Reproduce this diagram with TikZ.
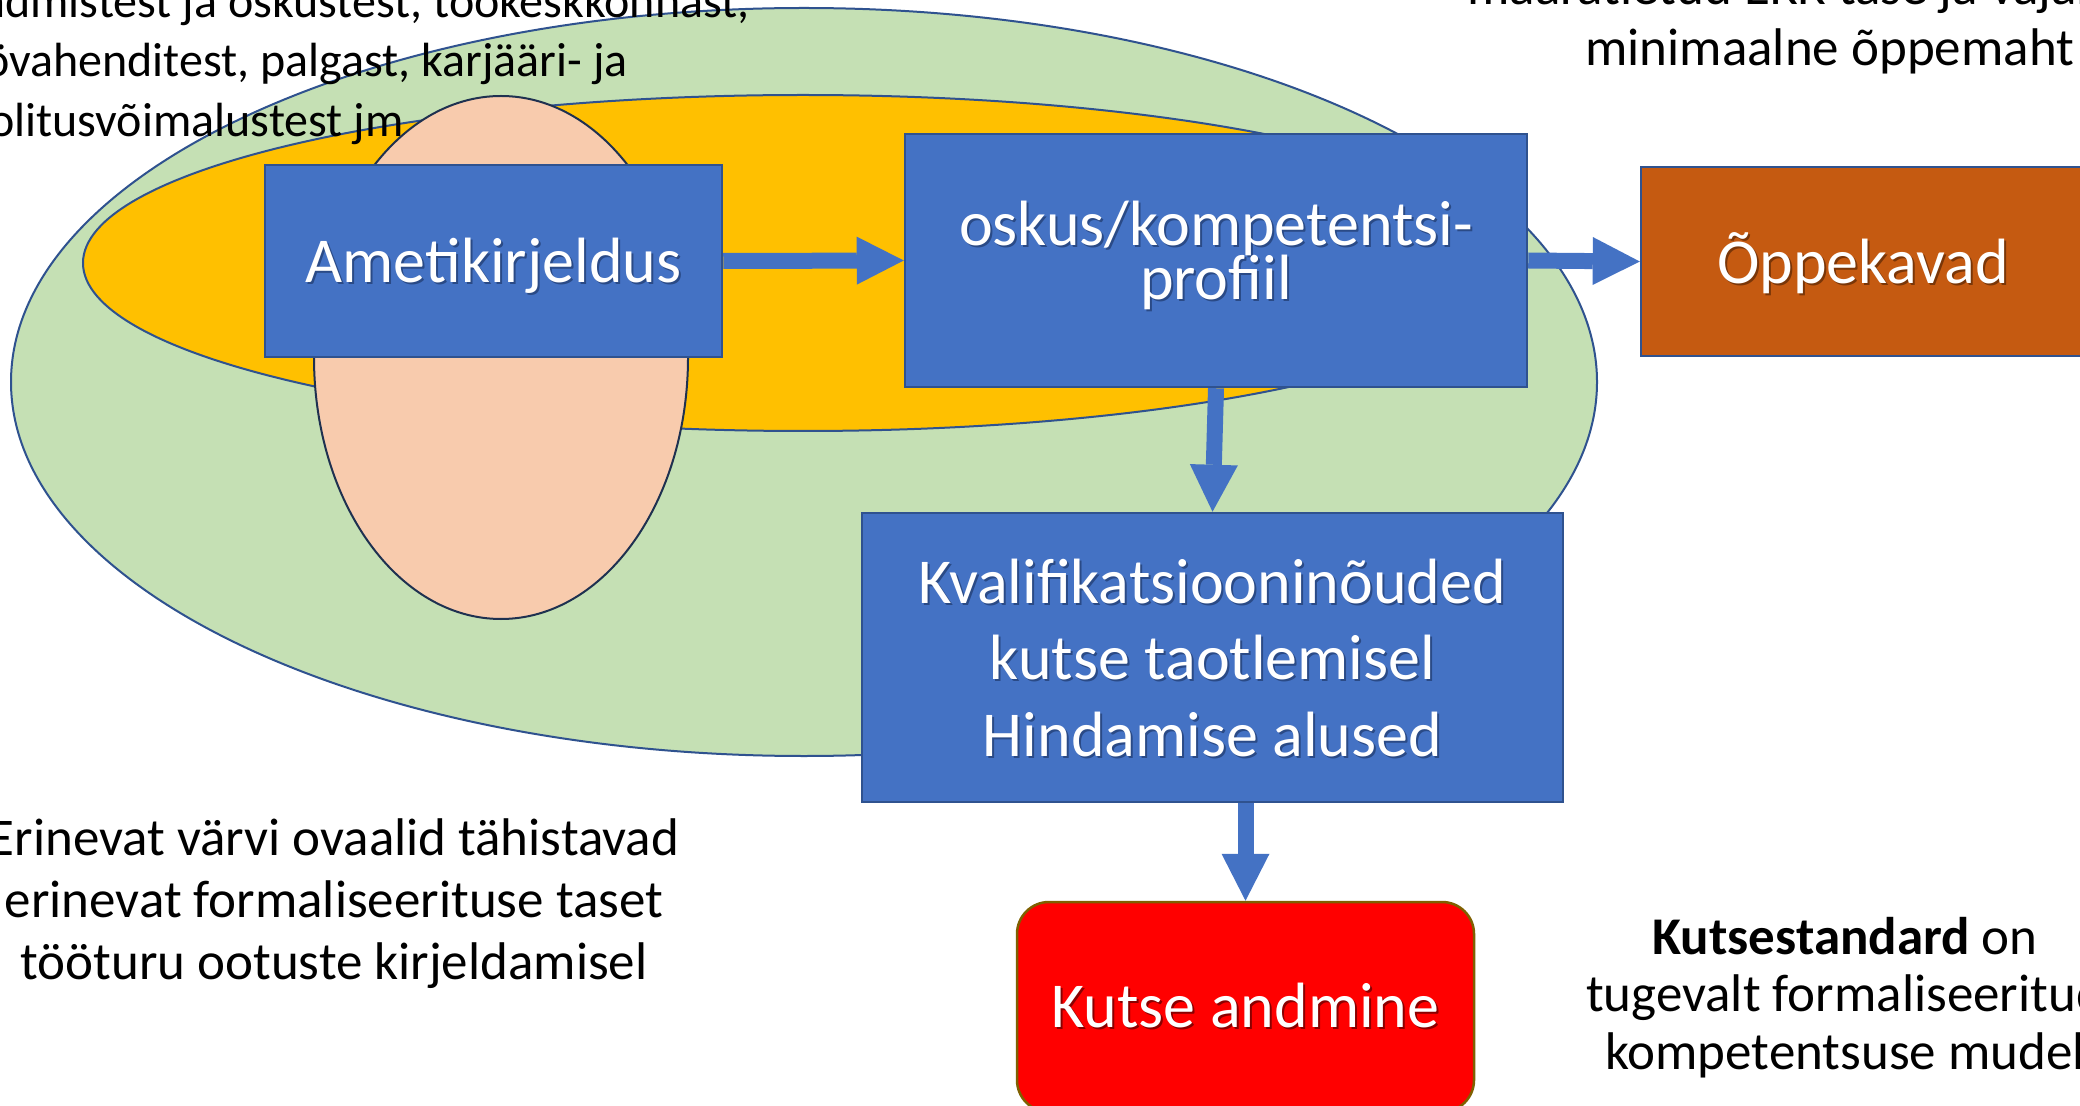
\documentclass[tikz,border=0pt]{standalone}
\usepackage{fontspec}
\setmainfont{Carlito}
\usetikzlibrary{arrows.meta,calc}
\definecolor{boxblue}{HTML}{4472C4}
\definecolor{boxedge}{HTML}{2F528F}
\definecolor{greenfill}{HTML}{C5E0B4}
\definecolor{orangefill}{HTML}{FFC000}
\definecolor{peachfill}{HTML}{F8CBAD}
\definecolor{peachedge}{HTML}{1F3150}
\definecolor{oppfill}{HTML}{C55A11}
\definecolor{kutseedge}{HTML}{7F6000}
\definecolor{shblue}{HTML}{2A4A86}
\definecolor{shorange}{HTML}{7A3608}
\definecolor{shred}{HTML}{8A0000}
\newcommand\shd[2]{\leavevmode\rlap{\kern1pt\raisebox{-1pt}{\textcolor{#1}{#2}}}#2}
\newcommand\linestack[1]{\vtop{\halign{\hfil##\hfil\cr#1\crcr}}}
\setlength{\lineskiplimit}{-100pt}
\begin{document}
\begin{tikzpicture}[x=0.5pt,y=-0.5pt,
  boxfont/.style={font=\fontsize{32pt}{38.3pt}\selectfont},
  bluebox/.style={draw=boxedge,line width=1.25pt,fill=boxblue,text=white,inner sep=0pt,boxfont},
  blockarrow/.style={draw=boxblue,line width=8pt,-{Triangle[width=24pt,length=23.5pt,line width=0pt]}},
  note/.style={inner sep=0pt,font=\fontsize{26.5pt}{31pt}\selectfont},
  smallnote/.style={inner sep=0pt,font=\fontsize{24pt}{29pt}\selectfont},
  oval/.style={line width=1pt}]
\useasboundingbox (0,0) rectangle (2080,1106);
\clip (0,0) rectangle (2080,1106);
\fill[white] (0,0) rectangle (2080,1106);

% ovals
\filldraw[oval,fill=greenfill,draw=boxedge] (804,382) ellipse [x radius=396.5pt, y radius=187pt];
\filldraw[oval,fill=orangefill,draw=boxedge] (803,263) ellipse [x radius=360pt, y radius=84pt];
\filldraw[oval,fill=peachfill,draw=peachedge] (501,357.5) ellipse [x radius=93.5pt, y radius=130.75pt];

% boxes
\node[bluebox,minimum width=228.5pt,minimum height=96pt,text height=22pt,text depth=0pt] (amet) at (493.5,261)
  {\shd{shblue}{Ametikirjeldus}};
\node[bluebox,minimum width=311pt,minimum height=126.5pt,font=\fontsize{32pt}{26.7pt}\selectfont,
  text height=0pt,text depth=14.8pt] (osk) at (1216,260.5)
  {\linestack{\shd{shblue}{oskus/kompetentsi-}\cr\shd{shblue}{profiil}}};
\node[bluebox,fill=oppfill,minimum width=222pt,minimum height=94.5pt,text height=22.5pt,text depth=0pt] (opp) at (1863,261.5)
  {\shd{shorange}{Õppekavad}};
\node[bluebox,minimum width=350.5pt,minimum height=144.5pt,text height=0pt,text depth=54.5pt] (kval) at (1212.5,657.5)
  {\linestack{\shd{shblue}{Kvalifikatsiooninõuded}\cr\shd{shblue}{kutse taotlemisel}\cr\shd{shblue}{Hindamise alused}}};
\node[draw=kutseedge,line width=1.25pt,fill=red,rounded corners=16pt,text=white,inner sep=0pt,boxfont,
  minimum width=228.5pt,minimum height=105pt,text height=20pt,text depth=0pt] (kutse) at (1245.5,1007)
  {\shd{shred}{Kutse andmine}};

% arrows
\draw[blockarrow] (amet.east) -- (osk.west);
\draw[blockarrow] (osk.south) -- (kval.north);
\draw[blockarrow] (osk.east) -- (opp.west);
\draw[blockarrow] (kutse.north |- kval.south) -- (kutse.north);

% texts
\node[smallnote,anchor=base east] (tl1) at (750,18) {teadmistest ja oskustest, töökeskkonnast,};
\node[smallnote,anchor=base east] (tl2) at (628,77) {töövahenditest, palgast, karjääri- ja};
\node[smallnote,anchor=base east] (tl3) at (404,137) {koolitusvõimalustest jm};

\node[note,anchor=base west] (tr1) at (1467,5) {määratletud EKR tase ja vajalik};
\node[note,anchor=base west] (tr2) at (1585,66) {minimaalne õppemaht};

\node[note,anchor=base] (bl1) at (334,855) {Erinevat värvi ovaalid tähistavad};
\node[note,anchor=base] (bl2) at (334,917) {erinevat formaliseerituse taset};
\node[note,anchor=base] (bl3) at (334,979) {tööturu ootuste kirjeldamisel};

\node[note,anchor=base] (br1) at (1845,954) {\textbf{Kutsestandard} on};
\node[note,anchor=base] (br2) at (1845,1011) {tugevalt formaliseeritud};
\node[note,anchor=base] (br3) at (1845,1069) {kompetentsuse mudel};
\end{tikzpicture}
\end{document}
